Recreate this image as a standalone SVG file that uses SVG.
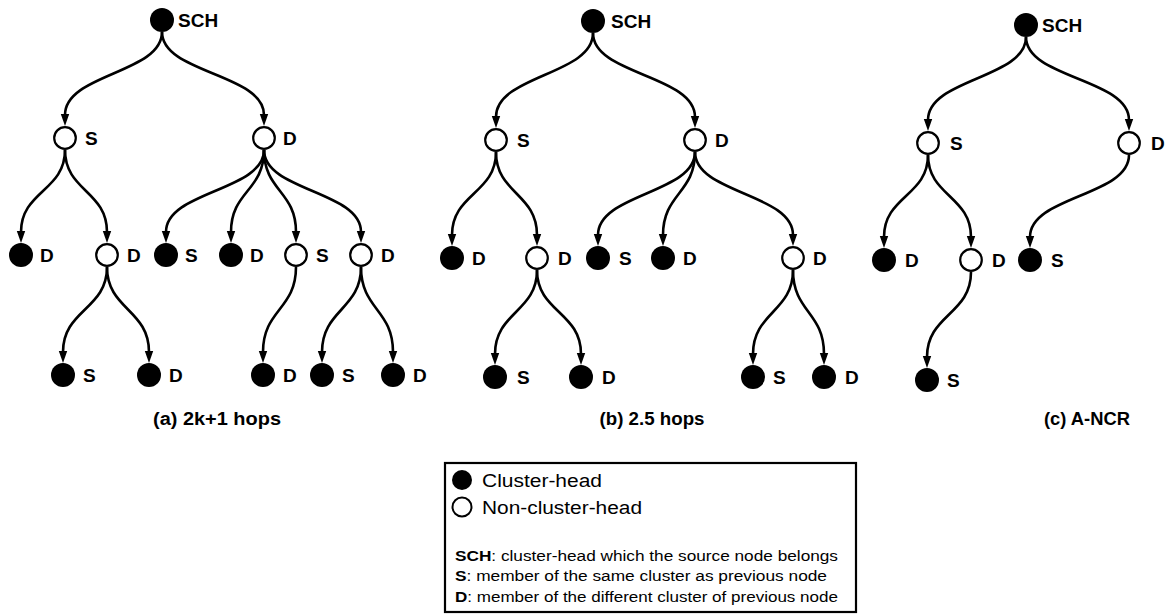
<svg xmlns="http://www.w3.org/2000/svg" width="1166" height="615" viewBox="0 0 1166 615">
<style>
.e{fill:none;stroke:#000;stroke-width:2.6;marker-end:url(#arr)}
.f{fill:#000}
.o{fill:#fff;stroke:#000;stroke-width:2.2}
.l{font-family:"Liberation Sans",Arial,sans-serif;font-weight:bold;font-size:19px;fill:#000}
.c{font-family:"Liberation Sans",Arial,sans-serif;font-weight:bold;font-size:18px;fill:#000;text-anchor:middle}
.g{font-family:"Liberation Sans",Arial,sans-serif;font-size:18px;fill:#000}
.s{font-family:"Liberation Sans",Arial,sans-serif;font-size:14px;fill:#000}
</style>
<defs>
<marker id="arr" markerUnits="userSpaceOnUse" markerWidth="14" markerHeight="10" refX="1" refY="5" orient="auto" viewBox="0 0 14 10"><path d="M0,0.8 L12,5 L0,9.2 z" fill="#000"/></marker>
</defs>
<rect width="1166" height="615" fill="#fff"/>
<g id="connectors">
<path class="e" d="M162,32 C162,73.5 65,73.5 65,115"/>
<path class="e" d="M162,32 C162,73.5 264,73.5 264,115"/>
<path class="e" d="M65,150 C65,191 21,191 21,232"/>
<path class="e" d="M65,150 C65,191 107,191 107,232"/>
<path class="e" d="M264,150 C264,191 166,191 166,232"/>
<path class="e" d="M264,150 C264,191 231,191 231,232"/>
<path class="e" d="M264,150 C264,191 296,191 296,232"/>
<path class="e" d="M264,150 C264,191 361,191 361,232"/>
<path class="e" d="M107,267 C107,309.5 63,309.5 63,352"/>
<path class="e" d="M107,267 C107,309.5 149,309.5 149,352"/>
<path class="e" d="M296,267 C296,309.5 263,309.5 263,352"/>
<path class="e" d="M361,267 C361,309.5 322,309.5 322,352"/>
<path class="e" d="M361,267 C361,309.5 393,309.5 393,352"/>
<path class="e" d="M593,33 C593,75 496,75 496,117"/>
<path class="e" d="M593,33 C593,75 695,75 695,117"/>
<path class="e" d="M496,152 C496,193.5 452,193.5 452,235"/>
<path class="e" d="M496,152 C496,193.5 537,193.5 537,235"/>
<path class="e" d="M695,152 C695,193.5 598,193.5 598,235"/>
<path class="e" d="M695,152 C695,193.5 663,193.5 663,235"/>
<path class="e" d="M695,152 C695,193.5 793,193.5 793,235"/>
<path class="e" d="M537,270 C537,312 495,312 495,354"/>
<path class="e" d="M537,270 C537,312 581,312 581,354"/>
<path class="e" d="M793,270 C793,312 753,312 753,354"/>
<path class="e" d="M793,270 C793,312 824,312 824,354"/>
<path class="e" d="M1026,37 C1026,78.5 928,78.5 928,120"/>
<path class="e" d="M1026,37 C1026,78.5 1129,78.5 1129,120"/>
<path class="e" d="M928,155 C928,196 884,196 884,237"/>
<path class="e" d="M928,155 C928,196 971,196 971,237"/>
<path class="e" d="M1129,155 C1129,196 1030,196 1030,237"/>
<path class="e" d="M971,272 C971,314.5 927,314.5 927,357"/>
</g>
<g id="tree-a">
<g id="a-sch"><circle class="f" cx="162" cy="20" r="12"/><text class="l" x="178" y="27">SCH</text></g>
<g id="a-s1"><circle class="o" cx="65" cy="138" r="10.8"/><text class="l" x="85" y="145">S</text></g>
<g id="a-d1"><circle class="o" cx="264" cy="138" r="10.8"/><text class="l" x="283" y="145">D</text></g>
<g id="a-d2"><circle class="f" cx="21" cy="255" r="12"/><text class="l" x="40" y="262">D</text></g>
<g id="a-d3"><circle class="o" cx="107" cy="255" r="10.8"/><text class="l" x="127" y="262">D</text></g>
<g id="a-s2"><circle class="f" cx="166" cy="255" r="12"/><text class="l" x="185" y="262">S</text></g>
<g id="a-d4"><circle class="f" cx="231" cy="255" r="12"/><text class="l" x="250" y="262">D</text></g>
<g id="a-s3"><circle class="o" cx="296" cy="255" r="10.8"/><text class="l" x="316" y="262">S</text></g>
<g id="a-d5"><circle class="o" cx="361" cy="255" r="10.8"/><text class="l" x="381" y="262">D</text></g>
<g id="a-s4"><circle class="f" cx="63" cy="375" r="12"/><text class="l" x="83" y="382">S</text></g>
<g id="a-d6"><circle class="f" cx="149" cy="375" r="12"/><text class="l" x="169" y="382">D</text></g>
<g id="a-d7"><circle class="f" cx="263" cy="375" r="12"/><text class="l" x="283" y="382">D</text></g>
<g id="a-s5"><circle class="f" cx="322" cy="375" r="12"/><text class="l" x="342" y="382">S</text></g>
<g id="a-d8"><circle class="f" cx="393" cy="375" r="12"/><text class="l" x="413" y="382">D</text></g>
<text id="cap-a" class="c" x="217" y="425" textLength="128" lengthAdjust="spacingAndGlyphs">(a) 2k+1 hops</text>
</g>
<g id="tree-b">
<g id="b-sch"><circle class="f" cx="593" cy="21" r="12"/><text class="l" x="611" y="28">SCH</text></g>
<g id="b-s1"><circle class="o" cx="496" cy="140" r="10.8"/><text class="l" x="517" y="147">S</text></g>
<g id="b-d1"><circle class="o" cx="695" cy="140" r="10.8"/><text class="l" x="715" y="147">D</text></g>
<g id="b-d2"><circle class="f" cx="452" cy="258" r="12"/><text class="l" x="472" y="265">D</text></g>
<g id="b-d3"><circle class="o" cx="537" cy="258" r="10.8"/><text class="l" x="558" y="265">D</text></g>
<g id="b-s2"><circle class="f" cx="598" cy="258" r="12"/><text class="l" x="619" y="265">S</text></g>
<g id="b-d4"><circle class="f" cx="663" cy="258" r="12"/><text class="l" x="683" y="265">D</text></g>
<g id="b-d5"><circle class="o" cx="793" cy="258" r="10.8"/><text class="l" x="813" y="265">D</text></g>
<g id="b-s3"><circle class="f" cx="495" cy="377" r="12"/><text class="l" x="517" y="384">S</text></g>
<g id="b-d6"><circle class="f" cx="581" cy="377" r="12"/><text class="l" x="602" y="384">D</text></g>
<g id="b-s4"><circle class="f" cx="753" cy="377" r="12"/><text class="l" x="773" y="384">S</text></g>
<g id="b-d7"><circle class="f" cx="824" cy="377" r="12"/><text class="l" x="845" y="384">D</text></g>
<text id="cap-b" class="c" x="652" y="425" textLength="105" lengthAdjust="spacingAndGlyphs">(b) 2.5 hops</text>
</g>
<g id="tree-c">
<g id="c-sch"><circle class="f" cx="1026" cy="25" r="12"/><text class="l" x="1042" y="32">SCH</text></g>
<g id="c-s1"><circle class="o" cx="928" cy="143" r="10.8"/><text class="l" x="950" y="150">S</text></g>
<g id="c-d1"><circle class="o" cx="1129" cy="143" r="10.8"/><text class="l" x="1151" y="150">D</text></g>
<g id="c-d2"><circle class="f" cx="884" cy="260" r="12"/><text class="l" x="905" y="267">D</text></g>
<g id="c-d3"><circle class="o" cx="971" cy="260" r="10.8"/><text class="l" x="992" y="267">D</text></g>
<g id="c-s2"><circle class="f" cx="1030" cy="260" r="12"/><text class="l" x="1051" y="267">S</text></g>
<g id="c-s3"><circle class="f" cx="927" cy="380" r="12"/><text class="l" x="947" y="387">S</text></g>
<text id="cap-c" class="c" x="1087" y="425" textLength="86" lengthAdjust="spacingAndGlyphs">(c) A-NCR</text>
</g>
<g id="legend">
<rect x="445" y="463" width="411" height="149" fill="#fff" stroke="#000" stroke-width="2.2"/>
<circle class="f" cx="462" cy="480" r="10"/>
<text class="g" x="482" y="487" textLength="120" lengthAdjust="spacingAndGlyphs">Cluster-head</text>
<circle cx="462" cy="507" r="9.5" fill="#fff" stroke="#000" stroke-width="2"/>
<text class="g" x="482" y="514" textLength="160" lengthAdjust="spacingAndGlyphs">Non-cluster-head</text>
<text class="s" x="455" y="561" textLength="383" lengthAdjust="spacingAndGlyphs"><tspan font-weight="bold">SCH</tspan>: cluster-head which the source node belongs</text>
<text class="s" x="455" y="581" textLength="372" lengthAdjust="spacingAndGlyphs"><tspan font-weight="bold">S</tspan>: member of the same cluster as previous node</text>
<text class="s" x="455" y="602" textLength="383" lengthAdjust="spacingAndGlyphs"><tspan font-weight="bold">D</tspan>: member of the different cluster of previous node</text>
</g>
</svg>
